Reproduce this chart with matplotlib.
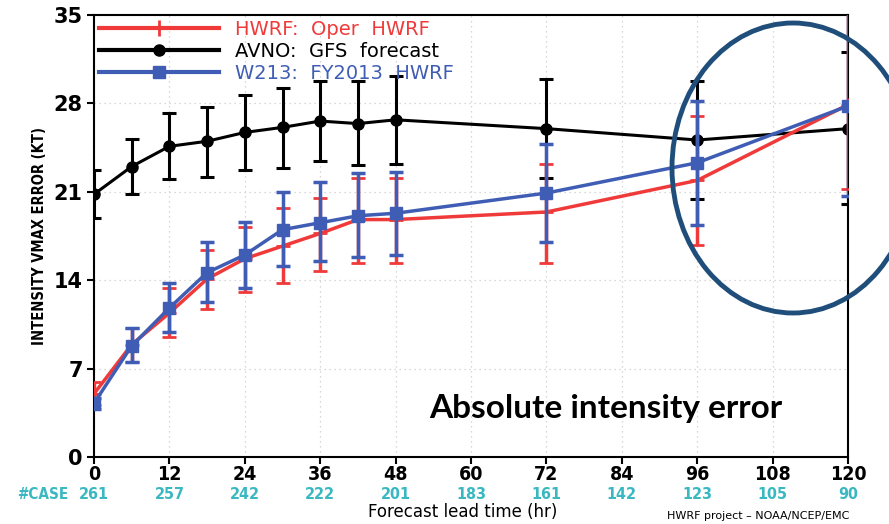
import matplotlib.pyplot as plt
from matplotlib.lines import Line2D
from matplotlib.patches import Ellipse

lead = [0, 6, 12, 18, 24, 30, 36, 42, 48, 72, 96, 120]

avno = [20.8, 23.0, 24.6, 25.0, 25.7, 26.1, 26.6, 26.4, 26.7, 26.0, 25.1, 26.0]
avno_lo = [18.9, 20.8, 22.0, 22.2, 22.7, 22.9, 23.4, 23.1, 23.2, 22.1, 20.4, 20.0]
avno_hi = [22.7, 25.2, 27.2, 27.7, 28.7, 29.2, 29.8, 29.8, 30.2, 29.9, 29.8, 32.1]

hwrf = [5.0, 8.9, 11.4, 14.1, 15.7, 16.7, 17.7, 18.8, 18.8, 19.4, 21.9, 27.9]
hwrf_lo = [4.1, 7.5, 9.5, 11.7, 13.1, 13.8, 14.7, 15.4, 15.4, 15.4, 16.8, 21.2]
hwrf_hi = [5.9, 10.2, 13.4, 16.4, 18.2, 19.7, 20.5, 22.1, 22.1, 23.2, 27.0, 35.5]

w213 = [4.25, 8.8, 11.8, 14.6, 16.0, 18.0, 18.55, 19.1, 19.3, 20.9, 23.3, 27.8]
w213_lo = [3.8, 7.5, 9.9, 12.3, 13.4, 15.1, 15.5, 15.8, 16.0, 17.0, 18.4, 20.7]
w213_hi = [4.7, 10.2, 13.8, 17.0, 18.6, 21.0, 21.8, 22.5, 22.6, 24.8, 28.2, 35.5]

case_hours = [0, 12, 24, 36, 48, 60, 72, 84, 96, 108, 120]
case_counts = [261, 257, 242, 222, 201, 183, 161, 142, 123, 105, 90]

RED = "#f03a3a"
BLUE = "#3f5db4"
TEAL = "#3ab8c2"


def err(vals, lo, hi):
    return [[v - l for v, l in zip(vals, lo)], [h - v for v, h in zip(vals, hi)]]


fig = plt.figure(figsize=(8.89, 5.24), dpi=100)
ax = fig.add_axes([0.1057, 0.1279, 0.8483, 0.8435])

ax.errorbar(lead, avno, yerr=err(avno, avno_lo, avno_hi), color="black", lw=2.2,
            marker="o", ms=8, elinewidth=2.2, capsize=5, capthick=2.2, zorder=3)
ax.errorbar(lead, hwrf, yerr=err(hwrf, hwrf_lo, hwrf_hi), color=RED, lw=2.5,
            marker="+", ms=10, mew=2, elinewidth=2.5, capsize=5, capthick=2.5, zorder=4)
ax.errorbar(lead, w213, yerr=err(w213, w213_lo, w213_hi), color=BLUE, lw=2.5,
            marker="s", ms=9, elinewidth=2.5, capsize=5, capthick=2.5, zorder=5)

ax.set_xlim(0, 120)
ax.set_ylim(0, 35)
ax.set_xticks(range(0, 121, 12))
ax.set_yticks(range(0, 36, 7))
ax.grid(True, color="#cccccc", ls=(0, (1, 3)), lw=0.9)
for s in ax.spines.values():
    s.set_linewidth(1.5)
ax.tick_params(axis="both", direction="out", length=5, width=1.5)
ax.tick_params(axis="x", labelsize=14, pad=1)
ax.tick_params(axis="y", labelsize=15, pad=3)
for lab in ax.get_xticklabels():
    lab.set_fontstretch("condensed")
    lab.set_fontweight("bold")
for lab in ax.get_yticklabels():
    lab.set_fontweight("bold")

ax.set_ylabel("INTENSITY VMAX ERROR (KT)", fontsize=10.5, fontweight="bold",
              fontstretch="condensed", labelpad=5)

for h, n in zip(case_hours, case_counts):
    ax.text(h, -0.084, str(n), transform=ax.get_xaxis_transform(), ha="center",
            va="center", color=TEAL, fontsize=11.5, fontweight="bold",
            fontstretch="condensed", clip_on=False)
ax.text(-0.068, -0.084, "#CASE", transform=ax.transAxes, ha="center", va="center",
        color=TEAL, fontsize=11, fontweight="bold", fontstretch="condensed",
        clip_on=False)

fig.text(0.52, 0.022, "Forecast lead time (hr)", ha="center", va="center", fontsize=12)
fig.text(0.853, 0.016, "HWRF project \u2013 NOAA/NCEP/EMC", ha="center", va="center",
         fontsize=8)

ax.text(0.445, 0.11, "Absolute intensity error", transform=ax.transAxes,
        fontsize=24, fontweight="bold", family=["Lato", "DejaVu Sans"], ha="left",
        va="center")

handles = [
    Line2D([], [], color=RED, lw=3, marker="+", ms=12, mew=2),
    Line2D([], [], color="black", lw=3, marker="o", ms=8),
    Line2D([], [], color=BLUE, lw=3, marker="s", ms=8),
]
labels = ["HWRF:  Oper  HWRF", "AVNO:  GFS  forecast", "W213:  FY2013  HWRF"]
leg = ax.legend(handles, labels, loc="upper left", frameon=False, fontsize=14,
                handlelength=6.2, borderaxespad=0.1, labelspacing=0.15,
                handletextpad=0.8, borderpad=0.15)
for txt, col in zip(leg.get_texts(), [RED, "black", BLUE]):
    txt.set_color(col)

ell = Ellipse((793, 524 - 168), 242, 290, transform=None, fill=False,
              edgecolor="#1f4e7a", lw=3.5, zorder=10)
fig.add_artist(ell)

fig.savefig("out.png", dpi=100)
